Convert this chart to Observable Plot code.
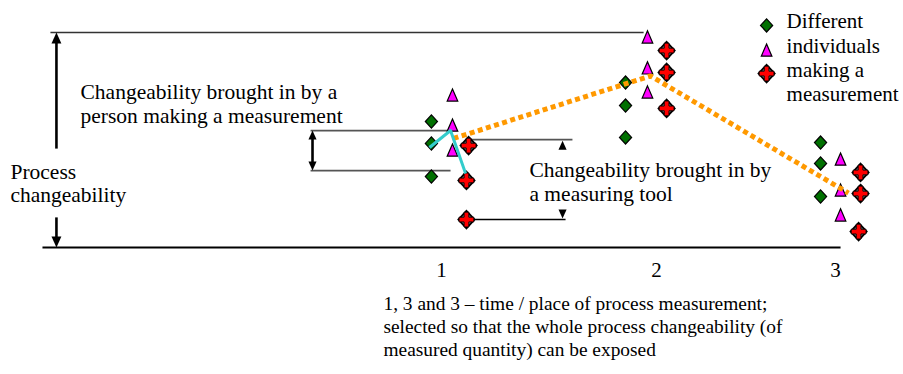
<!DOCTYPE html>
<html><head><meta charset="utf-8">
<script src="https://cdn.jsdelivr.net/npm/d3@7"></script>
<script src="https://cdn.jsdelivr.net/npm/@observablehq/plot@0.6"></script>
<style>
body{margin:0;background:#fff}
svg{display:block}
svg text, svg tspan{font-family:"Liberation Serif","Times New Roman","DejaVu Serif",serif !important;}
</style>
</head><body><div id="chart"></div>
<script>
// ---- data (chart units: x = measurement place, y = measured value) ----
const tickLabels = ["1", "2", "3"];
const tickX = [1.0, 2.0, 2.833];

const diamondX = [0.953, 0.953, 0.953, 1.856, 1.856, 1.856, 2.763, 2.763, 2.763];
const diamondY = [5.86, 4.84, 3.30, 7.67, 6.60, 5.12, 4.88, 3.91, 2.37];

const triangleX = [1.051, 1.051, 1.051, 1.958, 1.958, 1.958, 2.856, 2.856, 2.856];
const triangleY = [7.07, 5.67, 4.51, 9.77, 8.33, 7.21, 4.09, 2.65, 1.49];

const crossX = [1.126, 1.116, 1.116, 2.047, 2.047, 2.047, 2.949, 2.949, 2.940];
const crossY = [4.74, 3.12, 1.30, 9.16, 8.14, 6.47, 3.49, 2.51, 0.74];

const processX = [1.056, 1.972, 2.893];
const processY = [5.07, 7.98, 2.53];

const personX = [0.944, 1.042, 1.112];
const personY = [4.65, 5.44, 3.44];

const legendLabels = "Different\nindividuals\nmaking a\nmeasurement";
const legendX = 2.512;
const legendY = [10.33, 9.16, 8.09];

const noteProcess = "Process\nchangeability";
const notePerson = "Changeability brought in by a\nperson making a measurement";
const noteTool = "Changeability brought in by\na measuring tool";
const caption = "1, 3 and 3 \u2013 time / place of process measurement;\nselected so that the whole process changeability (of\nmeasured quantity) can be exposed";

// guide lines (chart units)
const guideLines = [
  {x1: -0.819, y1: 10.0, x2: 1.94, y2: 10.0, w: 1.4, c: "#333"},   // top of process range
  {x1: -0.856, y1: 0.0, x2: 2.856, y2: 0.0, w: 1.8, c: "#000"},    // bottom
  {x1: 0.391, y1: 5.44, x2: 1.042, y2: 5.44, w: 1.8, c: "#555"},   // person bracket top
  {x1: 0.391, y1: 3.58, x2: 1.042, y2: 3.58, w: 1.8, c: "#555"},   // person bracket bottom
  {x1: 1.135, y1: 5.02, x2: 1.609, y2: 5.02, w: 1.8, c: "#555"},   // tool bracket top
  {x1: 1.135, y1: 1.30, x2: 1.577, y2: 1.30, w: 1.6, c: "#000"}    // tool bracket bottom
];
const shafts = [
  {x: -0.791, y1: 4.60, y2: 9.6, w: 2.6},
  {x: -0.791, y1: 1.40, y2: 0.4, w: 2.6},
  {x: 0.40, y1: 5.1, y2: 3.9, w: 2.6}
];
const headsUp = [{x: -0.791, y: 10.0, r: 11}, {x: 0.40, y: 5.44, r: 9}, {x: 1.563, y: 4.97, r: 9}];
const headsDown = [{x: -0.791, y: 0.0, r: 11}, {x: 0.40, y: 3.58, r: 9}, {x: 1.563, y: 1.35, r: 9}];

// ---- custom symbols ----
const R = s => Math.sqrt(s / Math.PI);
const symDiamond = {draw(c, s) { const r = R(s); c.moveTo(0, -r); c.lineTo(r * 0.92, 0); c.lineTo(0, r); c.lineTo(-r * 0.92, 0); c.closePath(); }};
const symTri = {draw(c, s) { const r = R(s); c.moveTo(0, -r); c.lineTo(r * 0.8, r * 0.85); c.lineTo(-r * 0.8, r * 0.85); c.closePath(); }};
const symPlus = {draw(c, s) { const r = R(s), t = r * 0.32;
  c.moveTo(-t, -r); c.lineTo(t, -r); c.lineTo(t, -t); c.lineTo(r, -t); c.lineTo(r, t); c.lineTo(t, t);
  c.lineTo(t, r); c.lineTo(-t, r); c.lineTo(-t, t); c.lineTo(-r, t); c.lineTo(-r, -t); c.lineTo(-t, -t); c.closePath(); }};
const symHeadUp = {draw(c, s) { const r = R(s); c.moveTo(0, 0); c.lineTo(r * 0.45, r); c.lineTo(-r * 0.45, r); c.closePath(); }};
const symHeadDown = {draw(c, s) { const r = R(s); c.moveTo(0, 0); c.lineTo(r * 0.45, -r); c.lineTo(-r * 0.45, -r); c.closePath(); }};

const pts = (xs, ys) => xs.map((x, i) => ({x, y: ys[i]}));
const diamonds = pts(diamondX, diamondY);
const triangles = pts(triangleX, triangleY);
const crosses = pts(crossX, crossY);
const legendPts = legendY.map(y => ({x: legendX, y}));

const font = "Liberation Serif";
const FS = 21.5;
const T = (data, opts) => Plot.text(data, {text: d => d, fontFamily: font, fontSize: FS, fill: "#000", ...opts});

const chart = Plot.plot({
  width: 903, height: 374,
  marginTop: 0, marginRight: 0, marginBottom: 0, marginLeft: 0,
  x: {domain: [-1.0512, 3.1488], axis: null},
  y: {domain: [-5.907, 11.488], axis: null},
  r: {type: "identity"},
  style: {background: "#fff"},
  marks: [
    Plot.link(guideLines, {x1: "x1", y1: "y1", x2: "x2", y2: "y2", stroke: d => d.c, strokeWidth: d => d.w}),
    Plot.link(shafts, {x1: "x", x2: "x", y1: "y1", y2: "y2", stroke: "#000", strokeWidth: d => d.w}),
    Plot.dot(headsUp, {x: "x", y: "y", r: "r", symbol: symHeadUp, fill: "#000", stroke: "none"}),
    Plot.dot(headsDown, {x: "x", y: "y", r: "r", symbol: symHeadDown, fill: "#000", stroke: "none"}),
    // markers
    Plot.dot(diamonds, {x: "x", y: "y", r: 6.6, symbol: symDiamond, fill: "#007000", stroke: "#000", strokeWidth: 1.2}),
    Plot.dot(triangles, {x: "x", y: "y", r: 6.6, symbol: symTri, fill: "#ff00ff", stroke: "#000", strokeWidth: 1.2}),
    Plot.dot(crosses, {x: "x", y: "y", r: 8.8, symbol: symDiamond, fill: "url(#chk)", stroke: "#000", strokeWidth: 1.8}),
    Plot.dot(crosses, {x: "x", y: "y", r: 7.4, symbol: symPlus, fill: "#ff0000", stroke: "#000", strokeWidth: 0.9}),
    // process line and person line
    Plot.line(pts(processX, processY), {x: "x", y: "y", stroke: "#ff9900", strokeWidth: 5, strokeDasharray: "5,3.5", strokeLinecap: "butt", strokeLinejoin: "miter"}),
    Plot.line(pts(personX, personY), {x: "x", y: "y", stroke: "#33cccc", strokeWidth: 3, strokeLinecap: "butt"}),
    // legend
    Plot.dot(legendPts.slice(0, 1), {x: "x", y: "y", r: 6.6, symbol: symDiamond, fill: "#007000", stroke: "#000", strokeWidth: 1.2}),
    Plot.dot(legendPts.slice(1, 2), {x: "x", y: "y", r: 6.6, symbol: symTri, fill: "#ff00ff", stroke: "#000", strokeWidth: 1.2}),
    Plot.dot(legendPts.slice(2, 3), {x: "x", y: "y", r: 8.8, symbol: symDiamond, fill: "url(#chk)", stroke: "#000", strokeWidth: 1.8}),
    Plot.dot(legendPts.slice(2, 3), {x: "x", y: "y", r: 7.4, symbol: symPlus, fill: "#ff0000", stroke: "#000", strokeWidth: 0.9}),
    T([legendLabels], {x: 2.605, y: 8.86, textAnchor: "start", lineAnchor: "middle", lineHeight: 1.16, fontSize: 21}),
    // notes
    T([noteProcess], {x: -1.005, y: 3.0, textAnchor: "start", lineAnchor: "middle", lineHeight: 1.07}),
    T([notePerson], {x: -0.679, y: 6.72, textAnchor: "start", lineAnchor: "middle", lineHeight: 1.16}),
    T([noteTool], {x: 1.409, y: 3.07, textAnchor: "start", lineAnchor: "middle", lineHeight: 1.12}),
    // x tick labels
    T(tickLabels, {x: (d, i) => tickX[i], y: -1.07, textAnchor: "middle", lineAnchor: "middle", fontSize: 21}),
    // caption
    T([caption], {x: 0.730, y: -3.62, textAnchor: "start", lineAnchor: "middle", lineHeight: 1.19, fontSize: 19.4})
  ]
});

// checkered fill pattern for the cross markers
const ns = "http://www.w3.org/2000/svg";
const defs = document.createElementNS(ns, "defs");
defs.innerHTML = '<pattern id="chk" width="2" height="2" patternUnits="userSpaceOnUse"><rect width="2" height="2" fill="#fff"/><rect width="1" height="1" fill="#000"/><rect x="1" y="1" width="1" height="1" fill="#000"/></pattern>';
chart.insertBefore(defs, chart.firstChild);
document.getElementById("chart").appendChild(chart);
</script>
</body></html>
